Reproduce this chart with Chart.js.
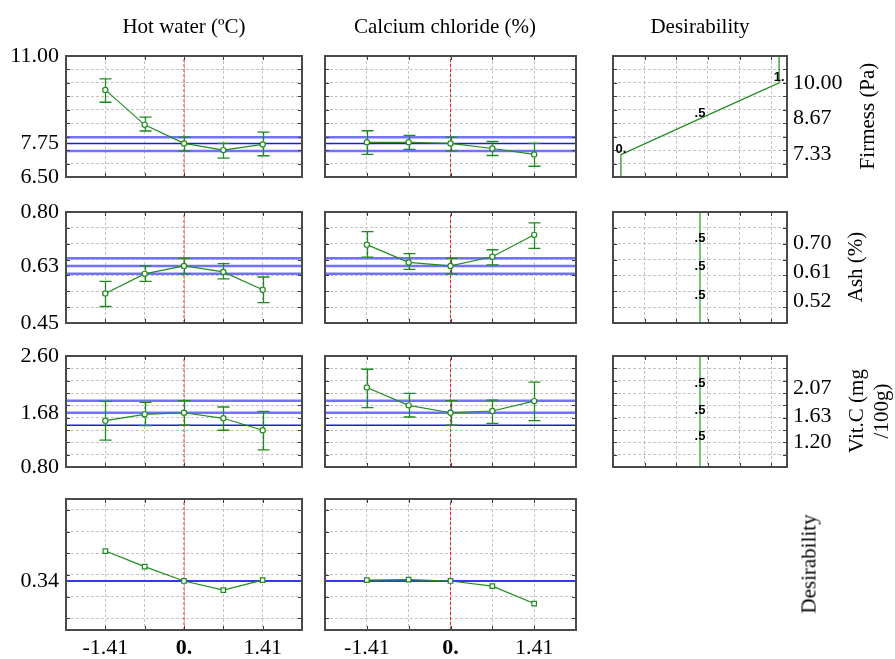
<!DOCTYPE html>
<html><head><meta charset="utf-8">
<title>Profiles for predicted values and desirability</title>
<script src="https://cdn.jsdelivr.net/npm/chart.js@4.4.1/dist/chart.umd.min.js"></script>
<style>
html,body{margin:0;padding:0;background:#fff;}
body{position:relative;width:895px;height:659px;overflow:hidden;font-family:"Liberation Serif","Times New Roman",serif;color:#000;}
canvas{position:absolute;left:0;top:0;}
.lbl{position:absolute;font-size:21px;line-height:25px;white-space:nowrap;text-align:center;transform:translate(-50%,-50%);}
.rot{transform:translate(-50%,-50%) rotate(-90deg);}
</style></head><body>
<script>
// ---------------- data ----------------
const levelPos = [1, 2, 3, 4, 5];            // five profile levels of each factor
const currentPos = 3;                        // current (centre) level
const profileGrid = [0, 1, 2, 3, 4, 5, 6];
const xTickPos = [1, 3, 5];
const xTickText = ['-1.41', '0.', '1.41'];
const factorNames = ['Hot water (ºC)', 'Calcium chloride (%)', 'Desirability'];
const responseNames = ['Firmess (Pa)', 'Ash (%)', 'Vit.C (mg<br>/100g)', 'Desirability'];

// Firmness (Pa)
const firmHotMean = [9.74, 8.44, 7.75, 7.50, 7.71];
const firmHotLow  = [9.28, 8.21, 7.47, 7.20, 7.29];
const firmHotHigh = [10.15, 8.73, 7.98, 7.75, 8.17];
const firmCaMean  = [7.79, 7.79, 7.75, 7.56, 7.34];
const firmCaLow   = [7.34, 7.53, 7.47, 7.30, 6.90];
const firmCaHigh  = [8.22, 8.05, 7.98, 7.82, 7.75];
const firmRef     = [7.98, 7.75, 7.47];
const firmGrid    = [6.5, 7, 7.5, 8, 8.5, 9, 9.5, 10, 10.5, 11];
const firmAxisLabels = [6.50, 7.75, 11.00];
const firmDesLevels = [7.33, 8.67, 10.00];
const firmDesValues = [0, 0.5, 1];

// Ash (%)
const ashHotMean = [0.543, 0.605, 0.630, 0.611, 0.555];
const ashHotLow  = [0.502, 0.581, 0.605, 0.589, 0.514];
const ashHotHigh = [0.581, 0.630, 0.654, 0.637, 0.595];
const ashCaMean  = [0.697, 0.641, 0.630, 0.659, 0.728];
const ashCaLow   = [0.658, 0.619, 0.605, 0.633, 0.685];
const ashCaHigh  = [0.738, 0.669, 0.654, 0.681, 0.766];
const ashRef     = [0.654, 0.630, 0.605];
const ashGrid    = [0.45, 0.50, 0.55, 0.60, 0.65, 0.70, 0.75, 0.80];
const ashAxisLabels = [0.45, 0.63, 0.80];
const ashDesLevels = [0.52, 0.61, 0.70];
const ashDesValues = [0.5, 0.5, 0.5];

// Vit.C (mg/100g)
const vitHotMean = [1.552, 1.654, 1.680, 1.590, 1.396];
const vitHotLow  = [1.235, 1.472, 1.477, 1.396, 1.079];
const vitHotHigh = [1.864, 1.848, 1.875, 1.773, 1.703];
const vitCaMean  = [2.090, 1.800, 1.680, 1.708, 1.869];
const vitCaLow   = [1.762, 1.611, 1.477, 1.509, 1.552];
const vitCaHigh  = [2.385, 1.993, 1.875, 1.885, 2.175];
const vitRef     = [1.875, 1.680, 1.477];
const vitGrid    = [0.8, 1.0, 1.2, 1.4, 1.6, 1.8, 2.0, 2.2, 2.4, 2.6];
const vitAxisLabels = [0.80, 1.68, 2.60];
const vitDesLevels = [1.20, 1.63, 2.07];
const vitDesValues = [0.5, 0.5, 0.5];

// Overall desirability
const desHot = [0.405, 0.369, 0.336, 0.315, 0.338];
const desCa  = [0.338, 0.339, 0.336, 0.324, 0.284];
const desRef = [0.336];
const desGrid = [0.25, 0.30, 0.35, 0.40, 0.45, 0.50];
const desAxisLabels = [0.336];

const desirX = [-0.05, 1.05];
const desirXGrid = [0.15, 0.35, 0.55, 0.75, 0.95];

// ---------------- layout / style ----------------
const W = 895, H = 659;
const COLS = [[66, 302], [325, 576], [613, 787]];
const ROWS = [[56, 177], [212, 323], [356, 467], [499, 630]];
const SERIF = '"Liberation Serif", "Times New Roman", serif';
const SANS = '"Liberation Sans", Arial, sans-serif';
const GRID = '#c4c4c4';
const GREEN = '#1f8a1f';
const REF_STYLE = {light: {c: '#7272ff', w: 2.5}, dark: {c: '#1c1cdc', w: 1.5}, mid: {c: '#3535ff', w: 2}};
const XPAD = 5, YAXW = 62, XAXH = 30, TICKSIZE = 22;

const ROWSPEC = [
  {min: 6.5, max: 11, grid: firmGrid, labels: firmAxisLabels, ref: firmRef, refStyle: ['light', 'dark', 'light'],
   series: [[firmHotMean, firmHotLow, firmHotHigh], [firmCaMean, firmCaLow, firmCaHigh]],
   desLevels: firmDesLevels, desValues: firmDesValues},
  {min: 0.45, max: 0.80, grid: ashGrid, labels: ashAxisLabels, ref: ashRef, refStyle: ['light', 'light', 'light'],
   series: [[ashHotMean, ashHotLow, ashHotHigh], [ashCaMean, ashCaLow, ashCaHigh]],
   desLevels: ashDesLevels, desValues: ashDesValues},
  {min: 0.8, max: 2.6, grid: vitGrid, labels: vitAxisLabels, ref: vitRef, refStyle: ['light', 'light', 'dark'],
   series: [[vitHotMean, vitHotLow, vitHotHigh], [vitCaMean, vitCaLow, vitCaHigh]],
   desLevels: vitDesLevels, desValues: vitDesValues},
  {min: 0.223, max: 0.525, grid: desGrid, labels: desAxisLabels, ref: desRef, refStyle: ['mid'],
   series: [[desHot], [desCa]]}
];

function near(arr, v) { return v != null && arr.some(a => Math.abs(a - v) < 1e-7); }
function fixedFit(size) {
  return s => {
    if (s.isHorizontal()) s.height = size; else s.width = size;
    s.paddingLeft = s.paddingRight = s.paddingTop = s.paddingBottom = 0;
  };
}
function fmtDes(d) { return d === 0 ? '0.' : d === 1 ? '1.' : String(d).replace(/^0\./, '.'); }

function makeDecor(o) {
  return {
    id: 'decor',
    afterDatasetsDraw(chart) {
      const ctx = chart.ctx, xs = chart.scales.x, ys = chart.scales.y;
      if (o.err) {
        ctx.save(); ctx.strokeStyle = GREEN; ctx.lineWidth = 1.3;
        o.err.x.forEach((xv, i) => {
          const px = Math.round(xs.getPixelForValue(xv)) + 0.5;
          const pm = ys.getPixelForValue(o.err.mid[i]);
          const plo = ys.getPixelForValue(o.err.lo[i]), phi = ys.getPixelForValue(o.err.hi[i]);
          ctx.beginPath();
          ctx.moveTo(px, phi); ctx.lineTo(px, Math.min(pm - 3, plo));
          ctx.moveTo(px, Math.max(pm + 3, phi)); ctx.lineTo(px, plo);
          ctx.moveTo(px - 6, phi); ctx.lineTo(px + 6, phi);
          ctx.moveTo(px - 6, plo); ctx.lineTo(px + 6, plo);
          ctx.stroke();
        });
        ctx.restore();
      }
      if (o.notes) {
        ctx.save(); ctx.font = 'bold 13px ' + SANS; ctx.fillStyle = '#000';
        ctx.textAlign = 'center'; ctx.textBaseline = 'bottom';
        o.notes.x.forEach((xv, i) => {
          ctx.fillText(o.notes.text[i], xs.getPixelForValue(xv), ys.getPixelForValue(o.notes.y[i]) + 1);
        });
        ctx.restore();
      }
    },
    afterDraw(chart) {
      const ctx = chart.ctx, a = chart.chartArea, xs = chart.scales.x, ys = chart.scales.y;
      ctx.save(); ctx.strokeStyle = '#3a3a3a'; ctx.lineWidth = 1;
      ctx.beginPath();
      o.yGrid.forEach(v => {
        const p = Math.round(ys.getPixelForValue(v)) + 0.5;
        ctx.moveTo(a.left, p); ctx.lineTo(a.left + 4, p);
        ctx.moveTo(a.right, p); ctx.lineTo(a.right - 4, p);
      });
      o.xGrid.forEach(v => {
        const p = Math.round(xs.getPixelForValue(v)) + 0.5;
        ctx.moveTo(p, a.bottom); ctx.lineTo(p, a.bottom - 4);
        ctx.moveTo(p, a.top); ctx.lineTo(p, a.top + 4);
      });
      ctx.stroke();
      ctx.strokeStyle = '#4a4a4a'; ctx.lineWidth = 2;
      ctx.strokeRect(a.left, a.top, a.right - a.left, a.bottom - a.top);
      ctx.restore();
    }
  };
}

function make(o) {
  const cv = document.createElement('canvas'); cv.width = W; cv.height = H;
  document.body.appendChild(cv);
  const [l, r] = COLS[o.col], [t, b] = ROWS[o.row];
  const yw = o.yLabels ? YAXW : 0;
  const xh = o.xLabels ? XAXH : 0;
  const pad = {
    left: l - (o.yPos === 'left' ? yw : 0),
    right: W - r - (o.yPos === 'right' ? yw : 0),
    top: t,
    bottom: H - b - xh
  };
  const yTicks = o.yGrid.concat(o.yLabels ? o.yLabels.filter(v => !near(o.yGrid, v)) : []).sort((p, q) => p - q);
  new Chart(cv, {
    type: 'line',
    data: {datasets: o.datasets},
    options: {
      responsive: false, animation: false, events: [],
      layout: {autoPadding: false, padding: pad},
      plugins: {legend: {display: false}, tooltip: {enabled: false}},
      scales: {
        x: {
          type: 'linear', position: 'bottom', min: o.xMin, max: o.xMax,
          afterBuildTicks: ax => { ax.ticks = o.xGrid.map(v => ({value: v})); },
          afterFit: fixedFit(xh),
          grid: {color: GRID, lineWidth: 1, drawTicks: false, borderDash: [3, 2]},
          border: {display: false, dash: [3, 2]},
          ticks: {
            display: !!o.xLabels, autoSkip: false, maxRotation: 0, minRotation: 0, padding: XPAD, color: '#000',
            font: c => ({family: SERIF, size: TICKSIZE, weight: (c.tick && c.tick.value === currentPos) ? 'bold' : 'normal'}),
            callback: v => { const k = xTickPos.indexOf(v); return (o.xLabels && k >= 0) ? xTickText[k] : ''; }
          }
        },
        y: {
          type: 'linear', position: o.yPos, min: o.yMin, max: o.yMax,
          afterBuildTicks: ax => { ax.ticks = yTicks.map(v => ({value: v})); },
          afterFit: fixedFit(yw),
          grid: {color: c => (c.tick && near(o.yGrid, c.tick.value)) ? GRID : 'rgba(0,0,0,0)', lineWidth: 1, drawTicks: false, borderDash: [3, 2]},
          border: {display: false, dash: [3, 2]},
          ticks: {
            display: !!o.yLabels, autoSkip: false, padding: o.yPos === 'left' ? 7 : 6, color: '#000', font: {family: SERIF, size: TICKSIZE},
            callback: v => (o.yLabels && near(o.yLabels, v)) ? v.toFixed(2) : ''
          }
        }
      }
    },
    plugins: [makeDecor(o)]
  });
}

function flat(points, color, width, extra) {
  return Object.assign({data: points, borderColor: color, borderWidth: width, pointRadius: 0, fill: false, tension: 0}, extra || {});
}

// profile panels
ROWSPEC.forEach((R, row) => {
  [0, 1].forEach(col => {
    const [mean, lo, hi] = R.series[col];
    const marker = row === 3 ? 'rect' : 'circle';
    const ds = [];
    ds.push({data: levelPos.map((x, i) => ({x, y: mean[i]})), borderColor: GREEN, borderWidth: 1.2,
      pointStyle: marker, pointRadius: marker === 'rect' ? 3.2 : 2.6, pointBorderWidth: 1.2,
      pointBorderColor: GREEN, pointBackgroundColor: '#fff', fill: false, tension: 0, order: 0});
    ds.push(flat([{x: currentPos, y: R.min}, {x: currentPos, y: R.max}], '#ee2626', 1, {borderDash: [3, 2], order: 1}));
    R.ref.forEach((v, k) => {
      const st = REF_STYLE[R.refStyle[k]];
      ds.push(flat([{x: profileGrid[0], y: v}, {x: profileGrid[profileGrid.length - 1], y: v}], st.c, st.w, {order: 2 + k}));
    });
    make({
      col, row, datasets: ds,
      xMin: profileGrid[0], xMax: profileGrid[profileGrid.length - 1], xGrid: profileGrid,
      xLabels: row === 3,
      yMin: R.min, yMax: R.max, yGrid: R.grid, yPos: 'left',
      yLabels: col === 0 ? R.labels : null,
      err: lo ? {x: levelPos, mid: mean, lo, hi} : null
    });
  });
});

// desirability function panels
[0, 1, 2].forEach(row => {
  const R = ROWSPEC[row];
  const lv = R.desLevels, dv = R.desValues;
  const pts = [{x: dv[0], y: R.min}].concat(lv.map((y, i) => ({x: dv[i], y})), [{x: dv[dv.length - 1], y: R.max}]);
  const constant = dv.every(d => d === dv[0]);
  make({
    col: 2, row,
    datasets: [flat(pts, constant ? '#74c774' : GREEN, constant ? 2 : 1.2)],
    xMin: desirX[0], xMax: desirX[1], xGrid: desirXGrid,
    xLabels: false,
    yMin: R.min, yMax: R.max, yGrid: R.grid, yPos: 'right', yLabels: lv,
    notes: {x: dv, y: lv, text: dv.map(fmtDes)}
  });
});

// ---------------- text ----------------
function addText(html, cx, cy, rotate, extra) {
  const d = document.createElement('div');
  d.className = 'lbl' + (rotate ? ' rot' : '');
  d.innerHTML = html;
  d.style.left = cx + 'px'; d.style.top = cy + 'px';
  if (extra) Object.assign(d.style, extra);
  document.body.appendChild(d);
}
addText(factorNames[0], 184, 26);
addText(factorNames[1], 445, 26);
addText(factorNames[2], 700, 26);
addText(responseNames[0], 867, 116, true);
addText(responseNames[1], 855, 267, true);
addText(responseNames[2], 869, 411, true);
addText(responseNames[3], 809, 564, true);
</script>
</body></html>
